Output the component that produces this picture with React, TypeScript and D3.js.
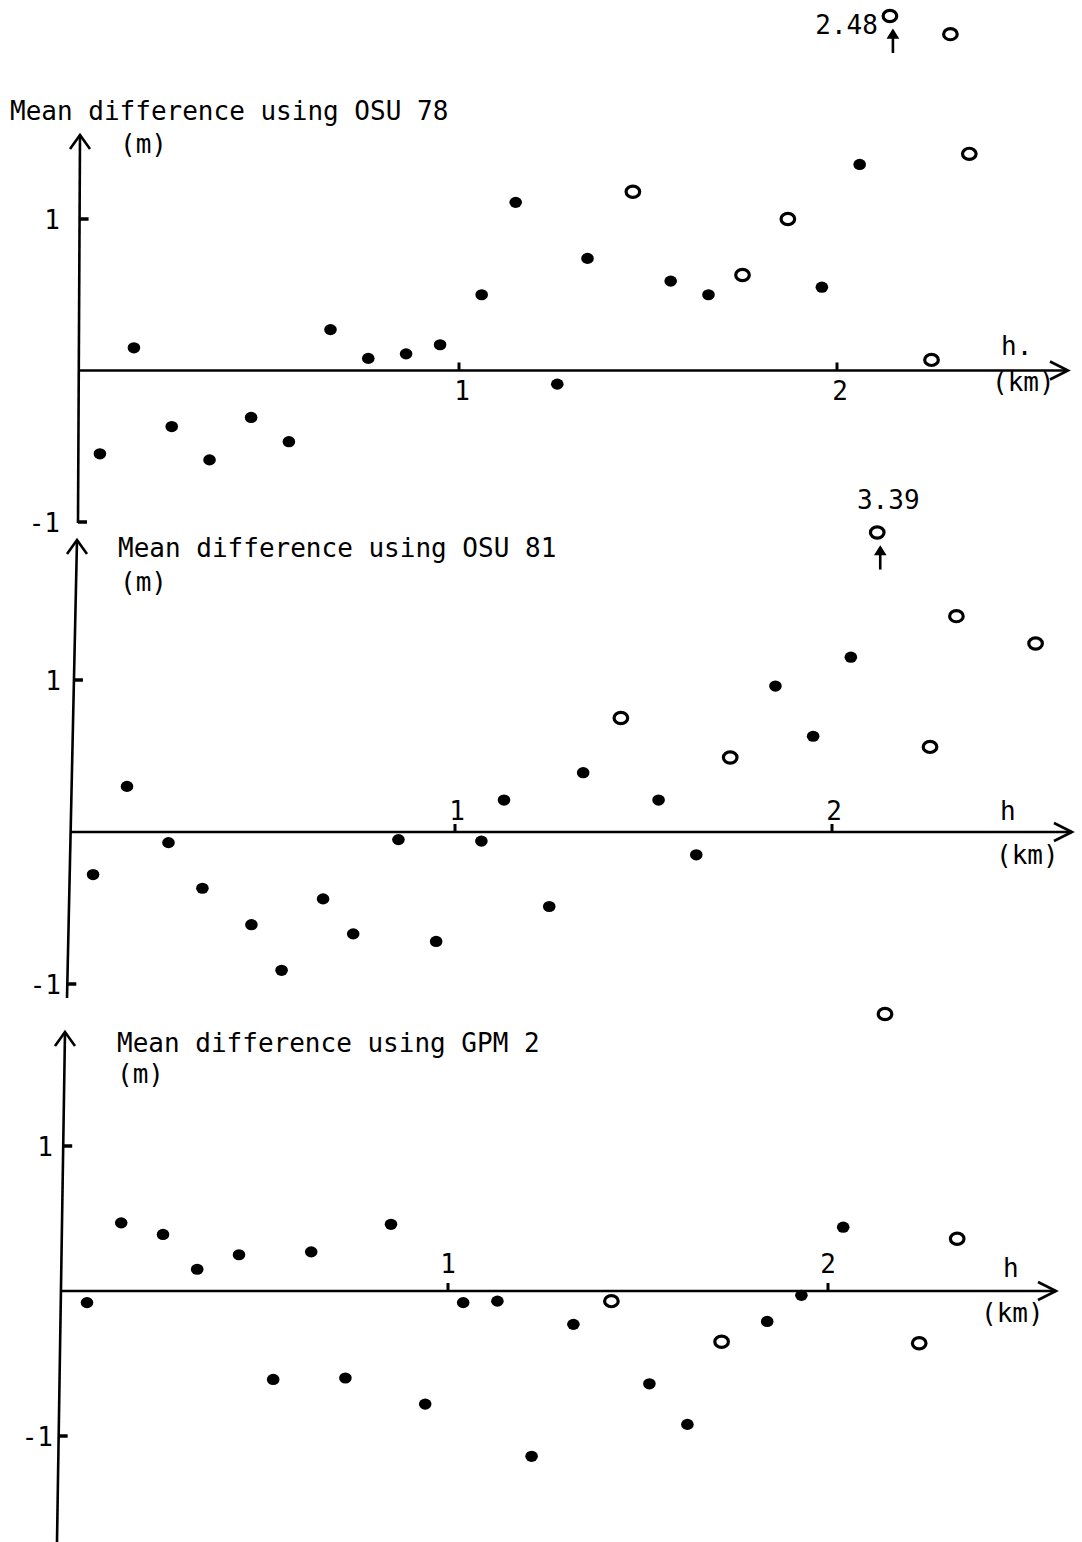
import React from "react";
import * as d3 from "d3";

// readings: [h (km), mean difference (m)]
const osu78Dots: [number, number][] = [
  [0.05, -0.55], [0.14, 0.15], [0.24, -0.37], [0.34, -0.59], [0.45, -0.31],
  [0.55, -0.47], [0.66, 0.27], [0.76, 0.08], [0.86, 0.11], [0.95, 0.17],
  [1.06, 0.5], [1.15, 1.11], [1.26, -0.09], [1.34, 0.74], [1.56, 0.59],
  [1.66, 0.5], [1.96, 0.55], [2.06, 1.36],
];
const osu78Rings: [number, number][] = [
  [1.46, 1.18], [1.75, 0.63], [1.87, 1.0], [2.25, 0.07], [2.35, 1.43], [2.3, 2.22],
];

const osu81Dots: [number, number][] = [
  [0.04, -0.28], [0.13, 0.3], [0.24, -0.07], [0.33, -0.37], [0.46, -0.61],
  [0.54, -0.91], [0.65, -0.44], [0.73, -0.67], [0.85, -0.05], [0.95, -0.72],
  [1.07, -0.06], [1.13, 0.21], [1.25, -0.49], [1.34, 0.39], [1.54, 0.21],
  [1.64, -0.15], [1.85, 0.96], [1.95, 0.63], [2.05, 1.15],
];
const osu81Rings: [number, number][] = [
  [1.44, 0.75], [1.73, 0.49], [2.26, 0.56], [2.33, 1.42], [2.54, 1.24],
];

const gpm2Dots: [number, number][] = [
  [0.05, -0.08], [0.14, 0.47], [0.25, 0.39], [0.34, 0.15], [0.45, 0.25],
  [0.54, -0.61], [0.64, 0.27], [0.73, -0.6], [0.85, 0.46], [0.94, -0.78],
  [1.04, -0.08], [1.13, -0.07], [1.22, -1.14], [1.33, -0.23], [1.53, -0.64],
  [1.63, -0.92], [1.84, -0.21], [1.93, -0.03], [2.04, 0.44],
];
const gpm2Rings: [number, number][] = [
  [1.43, -0.07], [1.72, -0.35], [2.24, -0.36], [2.34, 0.36], [2.15, 1.91],
];

// off-scale means: drawn at the top with an arrow and the true value
const osu78Off = { h: 2.14, d: 2.34, label: "2.48" };
const osu81Off = { h: 2.12, d: 1.97, label: "3.39" };

const titles = [
  "Mean difference using OSU 78",
  "Mean difference using OSU 81",
  "Mean difference using GPM 2",
];
const xTicks = [1, 2];
const yTicks = [1, -1];

const FONT = "'DejaVu Sans Mono', monospace";
const FS = 26;

const panels = [
  {
    title: titles[0], dots: osu78Dots, rings: osu78Rings, off: osu78Off,
    xr: [81, 837], yr: [522, 219],
    yTop: [80, 135], yBot: [78, 523], xEnd: 1068,
    titleAt: [10, 120], unitAt: [120, 153],
    xLabDy: 29, xLabDx: 3, yLabX: 60,
    hAt: [1001, 355], hText: "h.", kmAt: [992, 391],
    offText: "left",
  },
  {
    title: titles[1], dots: osu81Dots, rings: osu81Rings, off: osu81Off,
    xr: [78, 832], yr: [984, 680],
    yTop: [77, 540], yBot: [67, 998], xEnd: 1072,
    titleAt: [118, 557], unitAt: [120, 591],
    xLabDy: -12, xLabDx: 2, yLabX: 61,
    hAt: [1000, 820], hText: "h", kmAt: [996, 864],
    offText: "above",
  },
  {
    title: titles[2], dots: gpm2Dots, rings: gpm2Rings, off: null,
    xr: [68, 828], yr: [1436, 1146],
    yTop: [65, 1032], yBot: [57, 1542], xEnd: 1056,
    titleAt: [117, 1052], unitAt: [117, 1083],
    xLabDy: -18, xLabDx: 0, yLabX: 53,
    hAt: [1003, 1277], hText: "h", kmAt: [981, 1322],
    offText: "left",
  },
];

const Panel = ({ p }: { p: any }) => {
  const x = d3.scaleLinear().domain([0, 2]).range(p.xr);
  const y = d3.scaleLinear().domain([-1, 1]).range(p.yr);
  const y0 = y(0);
  // the hand-drawn vertical axis leans a little
  const axisXat = (py: number) =>
    p.yTop[0] + ((py - p.yTop[1]) * (p.yBot[0] - p.yTop[0])) / (p.yBot[1] - p.yTop[1]);
  const ax0 = axisXat(y0);
  const [tx, ty] = p.yTop;

  return (
    <g>
      {/* vertical axis */}
      <line x1={tx} y1={ty} x2={p.yBot[0]} y2={p.yBot[1]} stroke="#000" strokeWidth={2.6} />
      <path d={`M${tx - 10},${ty + 14} L${tx},${ty} L${tx + 10},${ty + 14}`} fill="none" stroke="#000" strokeWidth={2.6} />
      {yTicks.map((v) => {
        const py = y(v);
        const ax = axisXat(py);
        return (
          <g key={v}>
            <line x1={ax} y1={py} x2={ax + 9} y2={py} stroke="#000" strokeWidth={3.5} />
            <text x={p.yLabX} y={py + 10} textAnchor="end" fontSize={FS} fontFamily={FONT}>
              {v === 1 ? "1" : "-1"}
            </text>
          </g>
        );
      })}

      {/* horizontal axis */}
      <line x1={ax0} y1={y0} x2={p.xEnd} y2={y0} stroke="#000" strokeWidth={2.6} />
      <path d={`M${p.xEnd - 18},${y0 - 9} L${p.xEnd},${y0} L${p.xEnd - 18},${y0 + 9}`} fill="none" stroke="#000" strokeWidth={2.6} />
      {xTicks.map((v) => (
        <g key={v}>
          <line x1={x(v)} y1={y0} x2={x(v)} y2={y0 - 8} stroke="#000" strokeWidth={3} />
          <text x={x(v) + p.xLabDx} y={y0 + p.xLabDy} textAnchor="middle" fontSize={FS} fontFamily={FONT}>
            {v}
          </text>
        </g>
      ))}

      {/* labels */}
      <text x={p.titleAt[0]} y={p.titleAt[1]} fontSize={FS} fontFamily={FONT}>{p.title}</text>
      <text x={p.unitAt[0]} y={p.unitAt[1]} fontSize={FS} fontFamily={FONT}>(m)</text>
      <text x={p.hAt[0]} y={p.hAt[1]} fontSize={FS} fontFamily={FONT}>{p.hText}</text>
      <text x={p.kmAt[0]} y={p.kmAt[1]} fontSize={FS} fontFamily={FONT}>(km)</text>

      {/* marks */}
      {p.dots.map((d: [number, number], i: number) => (
        <ellipse key={"d" + i} cx={x(d[0])} cy={y(d[1])} rx={6.3} ry={5.6} fill="#000" />
      ))}
      {p.rings.map((d: [number, number], i: number) => (
        <ellipse key={"r" + i} cx={x(d[0])} cy={y(d[1])} rx={6.8} ry={5.6} fill="#fff" stroke="#000" strokeWidth={3.2} />
      ))}
      {p.off && (() => {
        const cx = x(p.off.h);
        const cy = y(p.off.d);
        return (
          <g>
            <ellipse cx={cx} cy={cy} rx={6.8} ry={5.6} fill="#fff" stroke="#000" strokeWidth={3.2} />
            <line x1={cx + 3} y1={cy + 37} x2={cx + 3} y2={cy + 15} stroke="#000" strokeWidth={2.6} />
            <path d={`M${cx - 2},${cy + 22} L${cx + 3},${cy + 14} L${cx + 8},${cy + 22} Z`} fill="#000" stroke="#000" strokeWidth={1.5} />
            {p.offText === "left" ? (
              <text x={cx - 12} y={cy + 18} textAnchor="end" fontSize={FS} fontFamily={FONT}>{p.off.label}</text>
            ) : (
              <text x={cx + 11} y={cy - 24} textAnchor="middle" fontSize={FS} fontFamily={FONT}>{p.off.label}</text>
            )}
          </g>
        );
      })()}
    </g>
  );
};

export default function App() {
  return (
    <svg width={1082} height={1542} style={{ position: "absolute", left: 0, top: 0, background: "#fff" }}>
      <rect width={1082} height={1542} fill="#fff" />
      {panels.map((p, i) => (
        <Panel key={i} p={p} />
      ))}
    </svg>
  );
}
